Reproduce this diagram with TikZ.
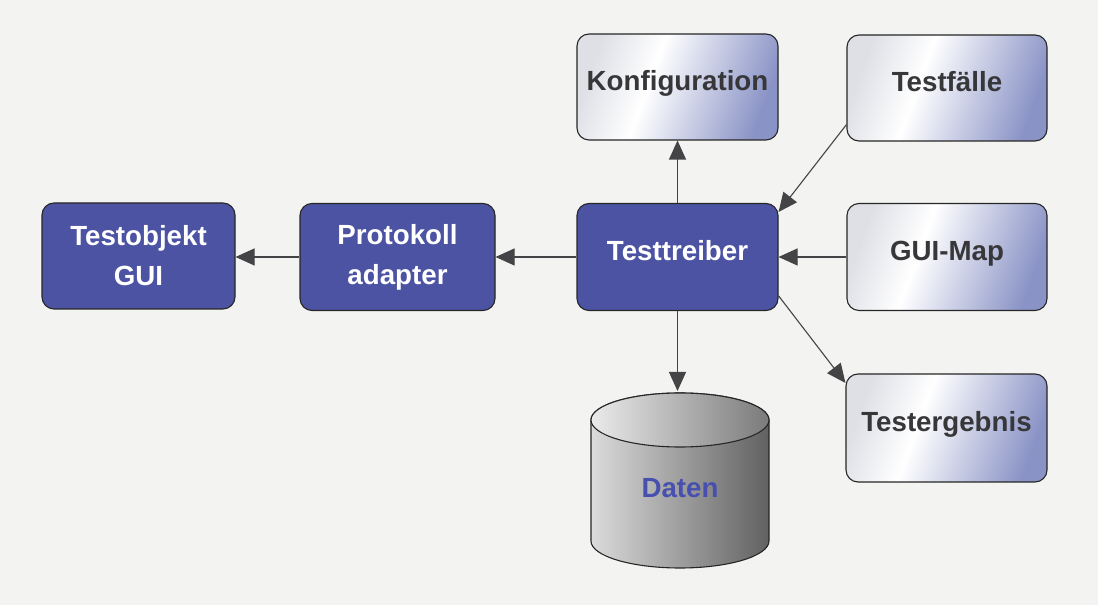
\documentclass[tikz,border=0pt]{standalone}
\usepackage{fontspec}
\setmainfont{Liberation Sans}
\usetikzlibrary{arrows.meta}
\definecolor{bgc}{RGB}{243,244,241}
\definecolor{cDark}{RGB}{76,83,163}
\definecolor{cLightBlue}{RGB}{138,147,198}
\definecolor{cLightLeft}{RGB}{222,224,230}
\definecolor{cTxt}{RGB}{55,55,58}
\definecolor{cLine}{RGB}{68,68,70}
\definecolor{cDaten}{RGB}{72,80,175}
\pgfdeclarehorizontalshading{lightgrad}{100bp}{color(0bp)=(cLightLeft); color(25bp)=(cLightLeft); color(42bp)=(white); color(75bp)=(cLightBlue); color(100bp)=(cLightBlue)}
\tikzset{
  boxbase/.style={rounded corners=12pt, draw=black!85, line width=1.1pt,
    font=\fontsize{27.7}{40}\selectfont\bfseries, align=center, inner sep=0pt},
  oneline/.style={text height=14pt, text depth=7pt},
  darkbox/.style={boxbase, fill=cDark, text=white},
  lightbox/.style={boxbase, oneline, shade, shading=lightgrad, shading angle=-20, text=cTxt},
  conn/.style={draw=cLine, line width=1.1pt, -{Triangle[length=19pt,width=17pt]}},
}
\begin{document}
\begin{tikzpicture}[x=1pt,y=1pt]
\fill[bgc] (0,0) rectangle (1098,605);
\useasboundingbox (0,0) rectangle (1098,605);

% boxes
\node[darkbox, minimum width=193, minimum height=106] (to) at (138.5,349) {Testobjekt\\GUI};
\node[darkbox, minimum width=195, minimum height=107] (pa) at (397.5,348) {Protokoll\\adapter};
\node[darkbox, oneline, minimum width=201, minimum height=107] (tt) at (677.5,348) {Testtreiber};
\node[lightbox, minimum width=201, minimum height=106] (konf) at (677.5,518) {Konfiguration};
\node[lightbox, minimum width=200, minimum height=106] (tf) at (947,517) {Testfälle};
\node[lightbox, minimum width=200, minimum height=107] (gm) at (947,348) {GUI-Map};
\node[lightbox, minimum width=201, minimum height=108] (te) at (946.5,177) {Testergebnis};

% cylinder (Daten)
\shade[left color=black!14, middle color=black!30, right color=black!62, draw=black!85, line width=1.1pt]
  (591,185) -- (591,64) arc[start angle=180,end angle=360,x radius=89,y radius=27]
  -- (769,185) arc[start angle=0,end angle=180,x radius=89,y radius=27] -- cycle;
\shade[left color=black!8, right color=black!52, draw=black!85, line width=1.1pt]
  (680,185) ellipse[x radius=89,y radius=27];
\node[font=\fontsize{27.7}{40}\selectfont\bfseries, text=cDaten] (daten) at (680,117) {Daten};
\coordinate (dtop) at (677.5,214);

% connectors
\draw[conn] (tt.north) -- (konf.south);
\draw[conn] (tf.200) -- (tt.24);
\draw[conn] (gm.west) -- (tt.east);
\draw[conn] (tt.west) -- (pa.east);
\draw[conn] (pa.west) -- (pa.west -| to.east);
\draw[conn] (tt.south) -- (dtop);
\draw[conn] (tt.-21) -- (te.156);
\end{tikzpicture}
\end{document}
